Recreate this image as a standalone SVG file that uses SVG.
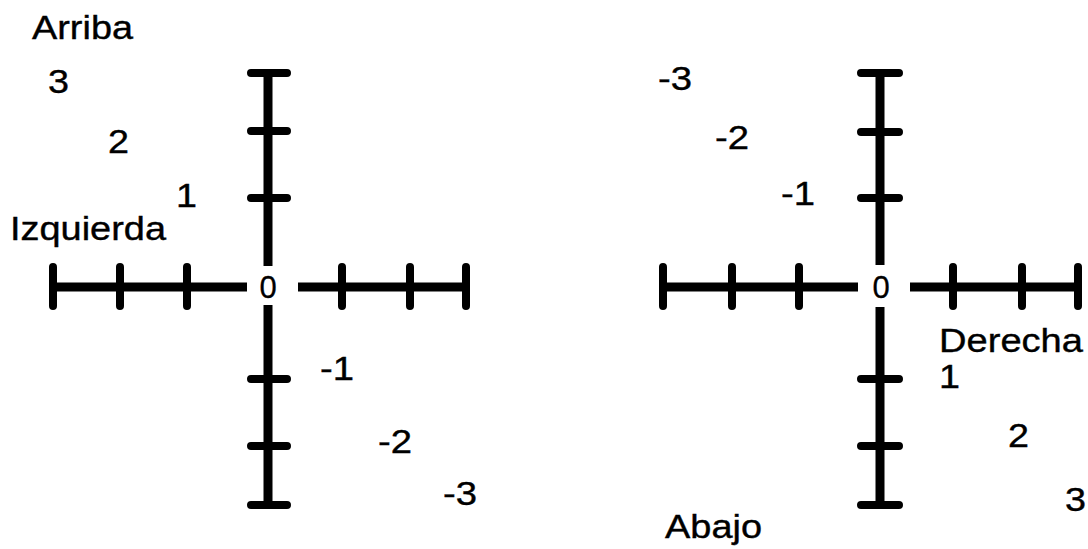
<svg xmlns="http://www.w3.org/2000/svg" width="1088" height="549" viewBox="0 0 1088 549">
<style>
.ax{stroke:#000;stroke-width:9;fill:none;stroke-linecap:butt}
.tk{stroke:#000;stroke-width:8;fill:none;stroke-linecap:round}
.t{font-family:"Liberation Sans",Arial,sans-serif;font-size:34px;fill:#000;stroke:#000;stroke-width:0.4}
.z{font-family:"Liberation Sans",Arial,sans-serif;font-size:31px;fill:#000;stroke:#000;stroke-width:0.3;text-anchor:middle}
</style>
<rect width="1088" height="549" fill="#fff"/>
<g id="left-axes">
<path class="ax" d="M53 287H247M298 287H466M268 73V266M268 305V505"/>
<path class="tk" d="M53 267V306M120 267V306M187 267V306M342 267V306M410 267V306M466 267V306M251 73H287M251 131H287M251 198H287M251 379H287M251 446H287M251 505H287"/>
<text class="z" x="268" y="298">0</text>
</g>
<g id="left-labels">
<text class="t" x="32" y="39" textLength="101" lengthAdjust="spacingAndGlyphs">Arriba</text>
<text class="t" x="48" y="93" textLength="21" lengthAdjust="spacingAndGlyphs">3</text>
<text class="t" x="108" y="153" textLength="21" lengthAdjust="spacingAndGlyphs">2</text>
<text class="t" x="176" y="207" textLength="21" lengthAdjust="spacingAndGlyphs">1</text>
<text class="t" x="10" y="240" textLength="156" lengthAdjust="spacingAndGlyphs">Izquierda</text>
<text class="t" x="320" y="380" textLength="34" lengthAdjust="spacingAndGlyphs">-1</text>
<text class="t" x="378" y="453" textLength="34" lengthAdjust="spacingAndGlyphs">-2</text>
<text class="t" x="443" y="505" textLength="34" lengthAdjust="spacingAndGlyphs">-3</text>
</g>
<g id="right-axes">
<path class="ax" d="M663 287H858M910 287H1078M880 73V265M880 307V505"/>
<path class="tk" d="M663 267V306M732 267V306M799 267V306M953 267V306M1022 267V306M1078 267V306M861 73H899M861 132H899M861 198H899M861 379H899M861 446H899M861 505H899"/>
<text class="z" x="881" y="298">0</text>
</g>
<g id="right-labels">
<text class="t" x="658" y="90" textLength="34" lengthAdjust="spacingAndGlyphs">-3</text>
<text class="t" x="715" y="149" textLength="34" lengthAdjust="spacingAndGlyphs">-2</text>
<text class="t" x="781" y="205" textLength="34" lengthAdjust="spacingAndGlyphs">-1</text>
<text class="t" x="939" y="352" textLength="144" lengthAdjust="spacingAndGlyphs">Derecha</text>
<text class="t" x="939" y="388" textLength="21" lengthAdjust="spacingAndGlyphs">1</text>
<text class="t" x="1008" y="447" textLength="21" lengthAdjust="spacingAndGlyphs">2</text>
<text class="t" x="1065" y="511" textLength="21" lengthAdjust="spacingAndGlyphs">3</text>
<text class="t" x="665" y="538" textLength="97" lengthAdjust="spacingAndGlyphs">Abajo</text>
</g>
</svg>
